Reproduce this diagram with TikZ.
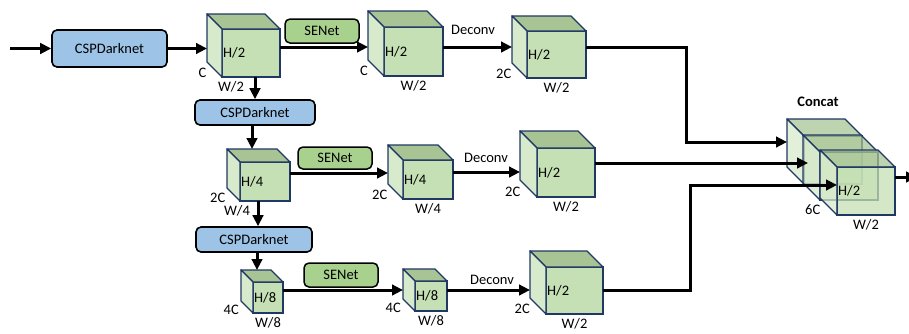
\documentclass[tikz,border=0pt]{standalone}
\usepackage{fontspec}
\setmainfont{Carlito}
\usepackage{xcolor}
\usetikzlibrary{arrows.meta,positioning,calc}

\definecolor{boxblue}{RGB}{157,195,230}
\definecolor{senetgreen}{RGB}{169,209,142}
\definecolor{cubefront}{RGB}{197,224,180}
\definecolor{cubetop}{RGB}{168,196,148}
\definecolor{cubeside}{RGB}{216,234,204}
\definecolor{cubeedge}{RGB}{32,56,100}

% feature map cube: [W shift]{name}{front top-left}{width}{height}{depth}{H}{C}{W}
\newcommand{\featcube}[9][0]{%
    \node[front, minimum width=#4pt, minimum height=#5pt, anchor=north west] (#2) at #3 {};
    \draw[edge, fill=cubetop] (#2.north west) -- ++(-#6,-#6) -- ++(#4,0) -- (#2.north east) -- cycle;
    \draw[edge, fill=cubeside] (#2.north west) -- ++(-#6,-#6) -- ++(0,#5) -- (#2.south west) -- cycle;
    \coordinate (#2-back) at ($(#2.west)+(-#6,-#6)$);
    \coordinate (#2-top) at ($(#2.north)+(-#6,-#6)$);
    \node[lbl, anchor=west] (#2-h) at (#2.west) {#7};
    \node[lbl, anchor=east] (#2-c) at ($(#2.south west)+(-#6/2-7,-#6/2+3)$) {#8};
    \node[lbl, below, yshift=-3pt, xshift=#1pt] (#2-w) at (#2.south) {#9};
}

\begin{document}
\begin{tikzpicture}[x=1pt, y=-1pt, font=\fontsize{14.5}{16}\selectfont]
    % Define styles
    \tikzstyle{darknet} = [rectangle, rounded corners=5pt, draw=black, line width=1.6pt, fill=boxblue, text centered, inner sep=0pt]
    \tikzstyle{senet} = [rectangle, rounded corners=5pt, draw=black, line width=1.5pt, fill=senetgreen, minimum width=74pt, inner sep=0pt]
    \tikzstyle{front} = [rectangle, draw=cubeedge, line width=1.4pt, fill=cubefront, inner sep=0pt, outer sep=0pt]
    \tikzstyle{edge} = [draw=cubeedge, line width=1.4pt, line join=round]
    \tikzstyle{lbl} = [inner sep=1pt, text opacity=1]
    \tikzstyle{arrow} = [line width=3pt, -{Triangle[length=11pt,width=10.5pt]}]

    \useasboundingbox (0,0) rectangle (909,333);

    % Backbone
    \coordinate (in) at (10,48.5);
    \node[darknet, minimum width=115pt, minimum height=37pt] (csp1) at (109.5,48.5) {CSPDarknet};
    \node[darknet, minimum width=120pt, minimum height=25pt] (csp2) at (255,112.5) {CSPDarknet};
    \node[darknet, minimum width=116pt, minimum height=25pt] (csp3) at (254,239.5) {CSPDarknet};

    % Row 1
    \featcube[-20]{c11}{(222,29)}{58}{48}{15}{H/2}{C}{W/2}
    \featcube{c12}{(384,27)}{59}{49}{16}{H/2}{C}{W/2}
    \featcube{c13}{(527,31)}{59}{47}{15}{H/2}{2C}{W/2}

    % Row 2
    \featcube[-28]{c21}{(240,162)}{50}{39}{13}{H/4}{2C}{W/4}
    \featcube{c22}{(403,160)}{50}{39}{15}{H/4}{2C}{W/4}
    \featcube{c23}{(537,148)}{58}{49}{17}{H/2}{2C}{W/2}

    % Row 3
    \featcube{c31}{(253,282)}{30}{31}{12}{H/8}{4C}{W/8}
    \featcube{c32}{(415,281)}{32}{30}{12}{H/8}{4C}{W/8}
    \featcube{c33}{(546,267)}{57}{47}{16}{H/2}{2C}{W/2}

    % Concatenated maps
    \begin{scope}[fill opacity=0.75]
        \featcube{ca}{(804,136)}{58}{48}{17}{}{}{}
        \featcube{cb}{(820,152)}{58}{48}{17}{}{}{}
        \featcube{cc}{(837,167)}{58}{48}{17}{H/2}{6C}{W/2}
    \end{scope}
    \node[font=\fontsize{14.5}{16}\selectfont\bfseries] (concat) at (818,102) {Concat};
    \coordinate (out) at (917,177);

    % SENet and Deconv labels
    \node[senet, minimum height=24pt] (se1) at (322,31) {SENet};
    \node[senet, minimum height=22pt] (se2) at (335,158) {SENet};
    \node[senet, minimum height=24pt] (se3) at (341,275) {SENet};
    \node (dc1) at (473,30) {Deconv};
    \node (dc2) at (486,158) {Deconv};
    \node (dc3) at (492,280) {Deconv};

    % Arrows
    \draw [arrow] (in) -- (csp1);
    \draw [arrow] (csp1) -- (c11-back |- csp1);
    \draw [arrow] (c11.east |- 0,47) -- (c12-back |- 0,47);
    \draw [arrow] (c12.east |- 0,47) -- (c13-back |- 0,47);
    \draw [arrow] (csp2 |- c11.south) -- (csp2.north);
    \draw [arrow] (csp2.south -| 252,0) -- (c21-top -| 252,0);
    \draw [arrow] (c21.south -| 258,0) -- (csp3.north -| 258,0);
    \draw [arrow] (csp3.south -| 257,0) -- (c31-top -| 257,0);
    \draw [arrow] (c21.east |- 0,173) -- (c22-back |- 0,173);
    \draw [arrow] (c22.east |- 0,172) -- (c23-back |- 0,172);
    \draw [arrow] (c31.east |- 0,290) -- (c32-back |- 0,290);
    \draw [arrow] (c32.east |- 0,290) -- (c33-back |- 0,290);
    \draw [arrow] (c13.east |- 0,47) -- (686,47) |- (ca-back |- 0,142);
    \draw [arrow] (c23.east |- 0,163) -- ($(cb-back |- 0,163)+(5,0)$);
    \draw [arrow] (c33.east |- 0,290) -- (690,290) |- (cc.west |- 0,185);
    \draw [arrow] (cc.east |- 0,177) -- (out);

\end{tikzpicture}
\end{document}
